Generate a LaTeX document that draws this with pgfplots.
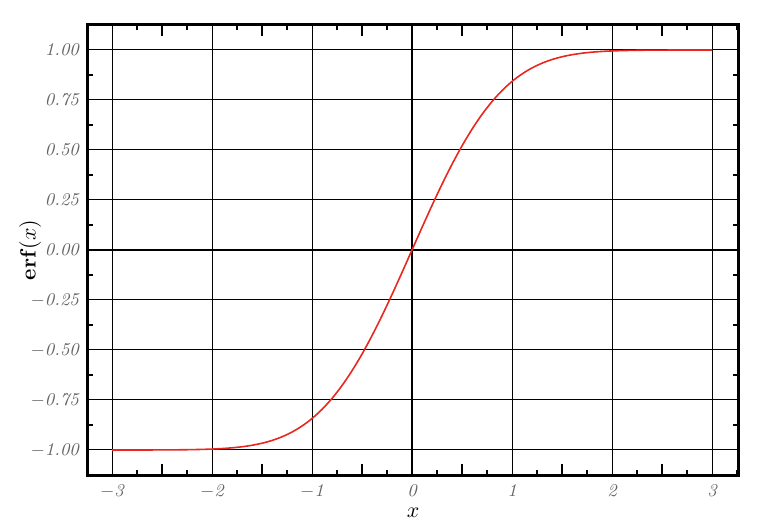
\documentclass[border=0pt]{standalone}
\usepackage{pgfplots}
\pgfplotsset{compat=1.18}
\definecolor{curve}{RGB}{232,40,30}
\definecolor{lbl}{RGB}{100,100,100}
\pgfplotstableread{
x y
-3.0 -0.999978
-2.9 -0.999959
-2.8 -0.999925
-2.7 -0.999866
-2.6 -0.999764
-2.5 -0.999593
-2.4 -0.999311
-2.3 -0.998857
-2.2 -0.998137
-2.1 -0.997021
-2.0 -0.995322
-1.9 -0.992790
-1.8 -0.989091
-1.7 -0.983790
-1.6 -0.976348
-1.5 -0.966105
-1.4 -0.952285
-1.3 -0.934008
-1.2 -0.910314
-1.1 -0.880205
-1.0 -0.842701
-0.9 -0.796908
-0.8 -0.742101
-0.7 -0.677801
-0.6 -0.603856
-0.5 -0.520500
-0.4 -0.428392
-0.3 -0.328627
-0.2 -0.222703
-0.1 -0.112463
0.0 0.000000
0.1 0.112463
0.2 0.222703
0.3 0.328627
0.4 0.428392
0.5 0.520500
0.6 0.603856
0.7 0.677801
0.8 0.742101
0.9 0.796908
1.0 0.842701
1.1 0.880205
1.2 0.910314
1.3 0.934008
1.4 0.952285
1.5 0.966105
1.6 0.976348
1.7 0.983790
1.8 0.989091
1.9 0.992790
2.0 0.995322
2.1 0.997021
2.2 0.998137
2.3 0.998857
2.4 0.999311
2.5 0.999593
2.6 0.999764
2.7 0.999866
2.8 0.999925
2.9 0.999959
3.0 0.999978
}\erftable
\begin{document}
\begin{tikzpicture}
\path[use as bounding box] (0,0) rectangle (389.5pt,264.5pt);
\begin{axis}[
  at={(44pt,27pt)}, anchor=south west,
  scale only axis, width=325pt, height=225pt,
  xmin=-3.24, xmax=3.26, ymin=-1.125, ymax=1.125,
  axis line style={line width=1.5pt},
  xtick={-3,-2,-1,0,1,2,3},
  xticklabels={$-$3,$-$2,$-$1,0,1,2,3},
  ytick={-1,-0.75,-0.5,-0.25,0,0.25,0.5,0.75,1},
  yticklabels={$-$1.00,$-$0.75,$-$0.50,$-$0.25,0.00,0.25,0.50,0.75,1.00},
  minor xtick={-3.25,-2.75,-2.25,-1.75,-1.25,-0.75,-0.25,0.25,0.75,1.25,1.75,2.25,2.75,3.25},
  minor ytick={-1.125,-0.875,-0.625,-0.375,-0.125,0.125,0.375,0.625,0.875,1.125},
  extra x ticks={-2.5,-1.5,-0.5,0.5,1.5,2.5},
  extra x tick labels={},
  extra x tick style={grid=none, major tick length=5.5pt, major tick style={line width=0.7pt, black}},
  tick align=inside,
  major tick length=0pt,
  minor tick length=2.6pt,
  minor tick style={line width=0.7pt, black},
  grid=major,
  major grid style={line width=0.5pt, black},
  ticklabel style={font=\fontsize{9}{10}\selectfont\itshape, text=lbl},
  xticklabel style={yshift=-1pt},
  yticklabel style={xshift=-1pt},
  xlabel={$x$},
  ylabel={\textbf{erf}$(x)$},
  label style={font=\fontsize{11}{13}\selectfont},
  xlabel style={at={(axis description cs:0.5,-0.083)}, anchor=center},
  ylabel style={at={(axis description cs:-0.089,0.5)}, anchor=center},
]
\draw[line width=1pt, black] (axis cs:0,-1.125) -- (axis cs:0,1.125);
\draw[line width=1pt, black] (axis cs:-3.24,0) -- (axis cs:3.26,0);
\addplot[smooth, color=curve, line width=0.8pt] table[x=x,y=y] {\erftable};
\end{axis}
\end{tikzpicture}
\end{document}
